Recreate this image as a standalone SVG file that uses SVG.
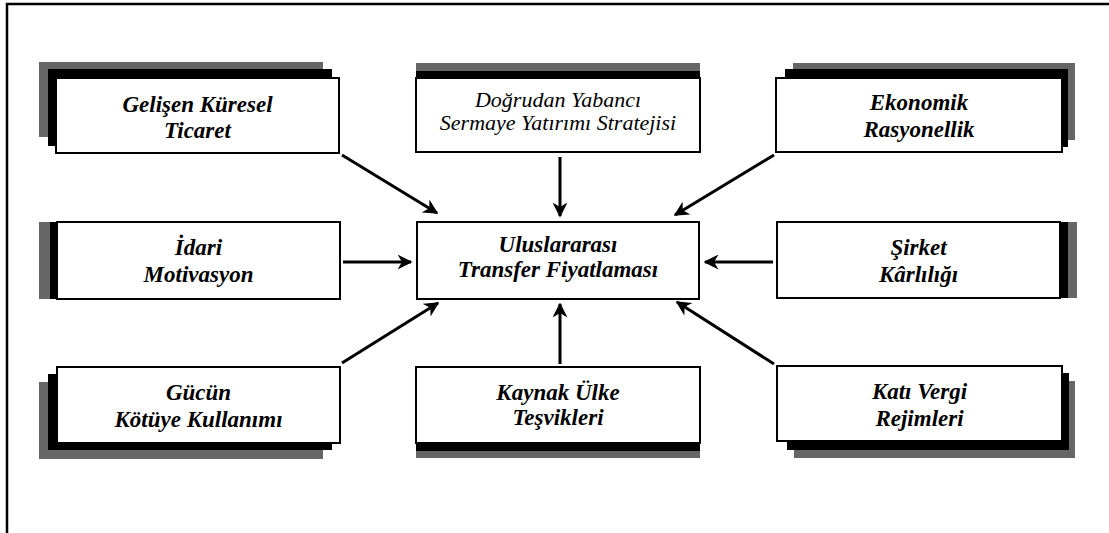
<svg xmlns="http://www.w3.org/2000/svg" width="1109" height="533" viewBox="0 0 1109 533">
<defs>
<style>
.box{fill:#fff;stroke:#000;stroke-width:2}
.blk{fill:#000}
.gry{fill:#666}
.c{stroke:#000;stroke-width:3;fill:none;marker-end:url(#ah)}
</style>
<marker id="ah" viewBox="0 0 10 10" refX="9" refY="5" markerWidth="5" markerHeight="5" orient="auto" markerUnits="strokeWidth">
<path d="M0,0 L10,5 L0,10 L3,5 Z" fill="#000"/>
</marker>
</defs>
<rect width="1109" height="533" fill="#fff"/>
<path d="M7,533 V4 H1109" stroke="#000" stroke-width="2.5" fill="none"/>

<g font-family="Liberation Serif" font-style="italic" font-weight="bold" font-size="23" text-anchor="middle" fill="#000">

<g id="n1">
<rect class="gry" x="39" y="62" width="284" height="75"/>
<rect class="blk" x="48" y="69" width="284" height="77"/>
<rect class="box" x="56" y="78" width="283" height="75"/>
<text x="197.5" y="112">Gelişen Küresel</text>
<text x="197.5" y="138">Ticaret</text>
</g>

<g id="n2">
<rect class="gry" x="416" y="63" width="284" height="10"/>
<rect class="blk" x="416" y="71" width="284" height="8"/>
<rect class="box" x="416" y="78" width="284" height="74"/>
<text x="558" y="107" font-weight="normal" font-size="22">Doğrudan Yabancı</text>
<text x="558" y="130" font-weight="normal" font-size="22">Sermaye Yatırımı Stratejisi</text>
</g>

<g id="n3">
<rect class="gry" x="793" y="63" width="282" height="77"/>
<rect class="blk" x="785" y="69" width="283" height="78"/>
<rect class="box" x="776" y="78" width="286" height="74"/>
<text x="919" y="110">Ekonomik</text>
<text x="919" y="137">Rasyonellik</text>
</g>

<g id="n4">
<rect class="gry" x="39" y="222" width="20" height="77"/>
<rect class="blk" x="50" y="222" width="9" height="77"/>
<rect class="box" x="57" y="222" width="283" height="77"/>
<text x="198.5" y="255">İdari</text>
<text x="198.5" y="282">Motivasyon</text>
</g>

<g id="center">
<rect class="box" x="417" y="222" width="282" height="77"/>
<text x="558" y="252">Uluslararası</text>
<text x="558" y="277">Transfer Fiyatlaması</text>
</g>

<g id="n6">
<rect class="gry" x="1058" y="222" width="19" height="76"/>
<rect class="blk" x="1058" y="222" width="10" height="76"/>
<rect class="box" x="777" y="222" width="283" height="76"/>
<text x="918.5" y="255">Şirket</text>
<text x="918.5" y="282">Kârlılığı</text>
</g>

<g id="n7">
<rect class="gry" x="39" y="382" width="284" height="77"/>
<rect class="blk" x="48" y="374" width="284" height="76"/>
<rect class="box" x="57" y="367" width="283" height="76"/>
<text x="198.5" y="400">Gücün</text>
<text x="198.5" y="427">Kötüye Kullanımı</text>
</g>

<g id="n8">
<rect class="gry" x="416" y="448" width="284" height="10"/>
<rect class="blk" x="416" y="441" width="284" height="10"/>
<rect class="box" x="416" y="367" width="284" height="76"/>
<text x="558" y="400">Kaynak Ülke</text>
<text x="558" y="425">Teşvikleri</text>
</g>

<g id="n9">
<rect class="gry" x="794" y="381" width="281" height="77"/>
<rect class="blk" x="787" y="373" width="282" height="77"/>
<rect class="box" x="777" y="366" width="285" height="75"/>
<text x="919.5" y="399">Katı Vergi</text>
<text x="919.5" y="426">Rejimleri</text>
</g>

</g>

<g id="connectors">
<line class="c" x1="342" y1="155" x2="437" y2="213"/>
<line class="c" x1="560" y1="157" x2="560" y2="216"/>
<line class="c" x1="774" y1="155" x2="675" y2="215"/>
<line class="c" x1="343" y1="262" x2="411" y2="262"/>
<line class="c" x1="773" y1="262" x2="705" y2="262"/>
<line class="c" x1="342" y1="363" x2="438" y2="303"/>
<line class="c" x1="560" y1="364" x2="560" y2="304"/>
<line class="c" x1="774" y1="364" x2="677" y2="302"/>
</g>
</svg>
